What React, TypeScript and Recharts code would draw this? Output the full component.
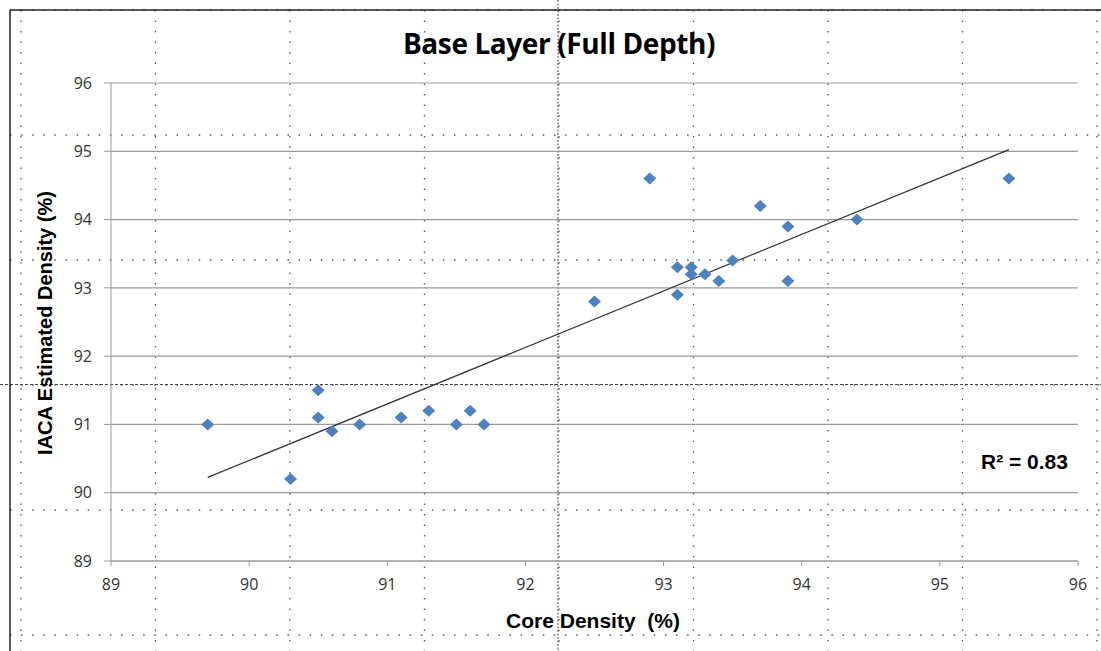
import { ScatterChart, Scatter, XAxis, YAxis, CartesianGrid, ReferenceLine } from "recharts";

// Core density (%) vs IACA estimated density (%)
const coreDensity = [
  89.7, 90.3, 90.5, 90.5, 90.6, 90.8, 91.1, 91.3, 91.5, 91.6, 91.7, 92.5, 92.9,
  93.1, 93.1, 93.2, 93.2, 93.3, 93.4, 93.5, 93.7, 93.9, 93.9, 94.4, 95.5,
];
const iacaDensity = [
  91.0, 90.2, 91.5, 91.1, 90.9, 91.0, 91.1, 91.2, 91.0, 91.2, 91.0, 92.8, 94.6,
  93.3, 92.9, 93.3, 93.2, 93.2, 93.1, 93.4, 94.2, 93.9, 93.1, 94.0, 94.6,
];
const xTicks = [89, 90, 91, 92, 93, 94, 95, 96];
const yTicks = [89, 90, 91, 92, 93, 94, 95, 96];
const rSquaredLabel = "R² = 0.83";

const points = coreDensity.map((x, i) => ({ x, y: iacaDensity[i] }));

// least squares trendline over the data range
const n = points.length;
const mx = coreDensity.reduce((a, b) => a + b, 0) / n;
const my = iacaDensity.reduce((a, b) => a + b, 0) / n;
let sxy = 0;
let sxx = 0;
points.forEach((p) => {
  sxy += (p.x - mx) * (p.y - my);
  sxx += (p.x - mx) * (p.x - mx);
});
const slope = sxy / sxx;
const intercept = my - slope * mx;
const xMin = Math.min(...coreDensity);
const xMax = Math.max(...coreDensity);
const trend = [
  { x: xMin, y: intercept + slope * xMin },
  { x: xMax, y: intercept + slope * xMax },
];

const Diamond = (props: any) => {
  const { cx, cy } = props;
  if (cx == null || cy == null) return null;
  return (
    <polygon
      points={`${cx},${cy - 6} ${cx + 6.5},${cy} ${cx},${cy + 6} ${cx - 6.5},${cy}`}
      fill="#4f81bd"
    />
  );
};

// spreadsheet cell gridlines behind the chart object
const sheetCols = Array.from({ length: 9 }, (_, i) => 21 + i * 134.5);
const sheetRows = Array.from({ length: 6 }, (_, i) => 10 + i * 125);

function SheetBackground() {
  return (
    <svg width={1101} height={651} style={{ position: "absolute", left: 0, top: 0 }}>
      {sheetCols.map((x, i) => (
        <line key={"c" + i} x1={x} y1={10} x2={x} y2={651} stroke="#555" strokeWidth={1.3} strokeDasharray="1.5 9" />
      ))}
      {sheetRows.map((y, i) => (
        <line key={"r" + i} x1={10} y1={y} x2={1101} y2={y} stroke="#555" strokeWidth={1.3} strokeDasharray="1.5 9.6" />
      ))}
      <line x1={558} y1={0} x2={558} y2={651} stroke="#444" strokeWidth={1} strokeDasharray="2 1.5" />
      <line x1={0} y1={384.5} x2={1101} y2={384.5} stroke="#444" strokeWidth={1} strokeDasharray="3 2" />
      <line x1={10} y1={10} x2={1101} y2={10} stroke="#222" strokeWidth={1.5} />
      <line x1={10} y1={10} x2={10} y2={651} stroke="#222" strokeWidth={1.5} />
    </svg>
  );
}

export default function App() {
  return (
    <div style={{ position: "absolute", left: 0, top: 0, width: 1101, height: 651, background: "#fff" }}>
      <SheetBackground />
      <div style={{ position: "absolute", left: 0, top: 0 }}>
        <ScatterChart width={1101} height={651} margin={{ top: 83, right: 23, left: 51, bottom: 50 }}>
          <CartesianGrid vertical={false} stroke="#9a9a9a" strokeWidth={1.2} />
          <XAxis
            type="number"
            dataKey="x"
            domain={[89, 96]}
            ticks={xTicks}
            height={40}
            stroke="#9a9a9a"
            tickSize={5}
            tickMargin={13}
            tick={{ fill: "#333", fontSize: 16, fontFamily: "Open Sans" }}
          />
          <YAxis
            type="number"
            dataKey="y"
            domain={[89, 96]}
            ticks={yTicks}
            width={60}
            stroke="#9a9a9a"
            tickSize={7}
            tickMargin={12}
            tick={{ fill: "#333", fontSize: 16, fontFamily: "Open Sans" }}
          />
          <ReferenceLine
            segment={trend}
            stroke="#333"
            strokeWidth={1.2}
            ifOverflow="visible"
          />
          <Scatter data={points} shape={<Diamond />} isAnimationActive={false} />
        </ScatterChart>
      </div>
      <div
        style={{
          position: "absolute", left: 0, width: 1118, top: 24, textAlign: "center",
          fontFamily: "Open Sans", fontWeight: 700, fontSize: 28, letterSpacing: -0.4, color: "#000",
        }}
      >
        Base Layer (Full Depth)
      </div>
      <div
        style={{
          position: "absolute", left: 0, width: 1186, top: 609, textAlign: "center",
          fontFamily: "Liberation Sans", fontWeight: 700, fontSize: 21, color: "#000", whiteSpace: "pre",
        }}
      >
        {"Core Density  (%)"}
      </div>
      <div
        style={{
          position: "absolute", left: 45, top: 323, transform: "translate(-50%, -50%) rotate(-90deg)",
          fontFamily: "Liberation Sans", fontWeight: 700, fontSize: 20, color: "#000", whiteSpace: "nowrap",
        }}
      >
        IACA Estimated Density (%)
      </div>
      <div
        style={{
          position: "absolute", left: 981, top: 450,
          fontFamily: "Liberation Sans", fontWeight: 700, fontSize: 21, color: "#000", whiteSpace: "nowrap",
        }}
      >
        {rSquaredLabel}
      </div>
    </div>
  );
}
